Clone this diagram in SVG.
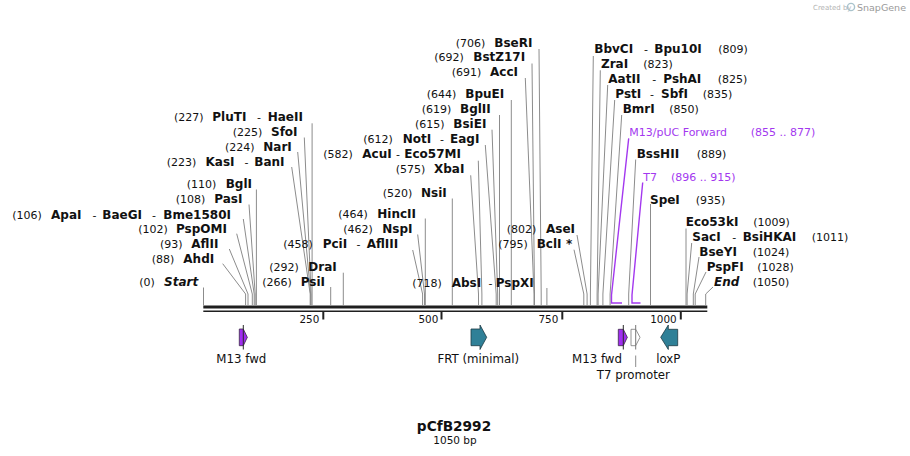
<svg xmlns="http://www.w3.org/2000/svg" width="910" height="456" viewBox="0 0 910 456">
<style>
text{font-family:"DejaVu Sans","Liberation Sans",sans-serif;fill:#111}
.n{font-size:11px}
.b{font-size:12px;font-weight:bold}
.i{font-size:12px;font-weight:bold;font-style:italic}
.pu{fill:#a338ef;font-size:11px}
.ft{font-size:11.8px;text-anchor:middle}
.tk{font-size:10.4px;text-anchor:end}
.sl{fill:none;stroke:#8c8c8c;stroke-width:1}
.pl{fill:none;stroke:#a338ef;stroke-width:1.4}
.tick{stroke:#222;stroke-width:2}
</style>
<g id="watermark">
<text x="813" y="10" style="font-size:7px;fill:#b4b4b4">Created by</text>
<circle cx="851" cy="7" r="3.6" fill="none" stroke="#a9c3cc" stroke-width="1.4"/>
<text x="857" y="11" style="font-size:9.5px;fill:#9a9a9a">SnapGene</text>
</g>
<g id="backbone">
<line x1="203.3" y1="307" x2="707.3" y2="307" stroke="#1f1f1f" stroke-width="2.8"/>
<line x1="203.3" y1="311.2" x2="707.3" y2="311.2" stroke="#1f1f1f" stroke-width="1.6"/>
<line class="tick" x1="323.3" y1="311" x2="323.3" y2="319.5"/>
<line class="tick" x1="441.5" y1="311" x2="441.5" y2="319.5"/>
<line class="tick" x1="562.3" y1="311" x2="562.3" y2="319.5"/>
<line class="tick" x1="680.8" y1="311" x2="680.8" y2="319.5"/>
<text class="tk" x="319.3" y="322.5">250</text>
<text class="tk" x="438.3" y="322.5">500</text>
<text class="tk" x="558.3" y="322.5">750</text>
<text class="tk" x="676.7" y="322.5">1000</text>
</g>
<g id="connectors">
<path class="sl" d="M312.1,123.3V305.5"/>
<path class="sl" d="M304.3,137.5L311.1,294V305.5"/>
<path class="sl" d="M297.7,152L310.6,294V305.5"/>
<path class="sl" d="M291.7,167L310.2,294V305.5"/>
<path class="sl" d="M256.4,189.5V305.5"/>
<path class="sl" d="M249,204.5L255.2,294V305.5"/>
<path class="sl" d="M243.3,219L254.2,294V305.5"/>
<path class="sl" d="M236.7,233.7L252.3,294V305.5"/>
<path class="sl" d="M229.3,249L248,294V305.5"/>
<path class="sl" d="M222.7,263.7L245.6,294V305.5"/>
<path class="sl" d="M203.5,287.5V305.5"/>
<path class="sl" d="M539,49L541.2,294V305.5"/>
<path class="sl" d="M532,63.5L534.5,294V305.5"/>
<path class="sl" d="M525.3,78L534,294V305.5"/>
<path class="sl" d="M511.3,100V305.5"/>
<path class="sl" d="M499.5,115V305.5"/>
<path class="sl" d="M492,129.7L497.7,294V305.5"/>
<path class="sl" d="M485.3,145L496.2,294V305.5"/>
<path class="sl" d="M478.3,160.7L481.9,294V305.5"/>
<path class="sl" d="M470.7,175.3L478.5,294V305.5"/>
<path class="sl" d="M452.3,198.5V305.5"/>
<path class="sl" d="M425.3,218.5V305.5"/>
<path class="sl" d="M417.7,234.5L424.5,294V305.5"/>
<path class="sl" d="M412.7,250L422.6,294V305.5"/>
<path class="sl" d="M343.3,272.7V305.5"/>
<path class="sl" d="M330.7,287V305.5"/>
<path class="sl" d="M546.9,288V305.5"/>
<path class="sl" d="M577,235L587.1,294V305.5"/>
<path class="sl" d="M574,249.7L583.8,294V305.5"/>
<path class="sl" d="M593.3,56L590.4,294V305.5"/>
<path class="sl" d="M600.3,70.3L597.1,294V305.5"/>
<path class="sl" d="M607.7,85L598.1,294V305.5"/>
<path class="sl" d="M614.7,100L602.9,294V305.5"/>
<path class="sl" d="M621.7,115L610.1,294V305.5"/>
<path class="sl" d="M635.7,159.5L628.7,294V305.5"/>
<path class="sl" d="M650.5,204V305.5"/>
<path class="sl" d="M686,228.5V305.5"/>
<path class="sl" d="M691.7,243L687.1,294V305.5"/>
<path class="sl" d="M699,257L693.3,294V305.5"/>
<path class="sl" d="M706,272L695.2,294V305.5"/>
<path class="sl" d="M713,287L705.7,294V305.5"/>
<path class="pl" d="M628.7,138.3L611.5,295V303H622"/>
<path class="pl" d="M642.7,182.5L632,295V303H640.5"/>
<line x1="635.7" y1="355.5" x2="635.7" y2="367" stroke="#8c8c8c" stroke-width="1"/>
</g>
<g id="sites-left">
<text y="120.8"><tspan class="n" x="174">(227)</tspan><tspan class="b" x="212.3">PluTI</tspan><tspan class="n" x="257">-</tspan><tspan class="b" x="267.7">HaeII</tspan></text>
<text y="136"><tspan class="n" x="232.7">(225)</tspan><tspan class="b" x="271">SfoI</tspan></text>
<text y="151"><tspan class="n" x="225">(224)</tspan><tspan class="b" x="263.3">NarI</tspan></text>
<text y="166"><tspan class="n" x="166.7">(223)</tspan><tspan class="b" x="205.5">KasI</tspan><tspan class="n" x="244.5">-</tspan><tspan class="b" x="254.3">BanI</tspan></text>
<text y="188.3"><tspan class="n" x="186.7">(110)</tspan><tspan class="b" x="225.7">BglI</tspan></text>
<text y="203"><tspan class="n" x="175.7">(108)</tspan><tspan class="b" x="214.3">PasI</tspan></text>
<text y="218.6"><tspan class="n" x="12.3">(106)</tspan><tspan class="b" x="51">ApaI</tspan><tspan class="n" x="92.5">-</tspan><tspan class="b" x="102.3">BaeGI</tspan><tspan class="n" x="152">-</tspan><tspan class="b" x="163.3">Bme1580I</tspan></text>
<text y="233.3"><tspan class="n" x="138.3">(102)</tspan><tspan class="b" x="176">PspOMI</tspan></text>
<text y="248.3"><tspan class="n" x="160">(93)</tspan><tspan class="b" x="191.3">AflII</tspan></text>
<text y="263"><tspan class="n" x="151.7">(88)</tspan><tspan class="b" x="183.3">AhdI</tspan></text>
<text y="286"><tspan class="n" x="139.3">(0)</tspan><tspan class="i" x="164">Start</tspan></text>
</g>
<g id="sites-middle">
<text y="46.6"><tspan class="n" x="455.7">(706)</tspan><tspan class="b" x="494.3">BseRI</tspan></text>
<text y="61"><tspan class="n" x="434.3">(692)</tspan><tspan class="b" x="473.3">BstZ17I</tspan></text>
<text y="76"><tspan class="n" x="451.7">(691)</tspan><tspan class="b" x="490">AccI</tspan></text>
<text y="98.3"><tspan class="n" x="426.7">(644)</tspan><tspan class="b" x="465.3">BpuEI</tspan></text>
<text y="113.3"><tspan class="n" x="421.7">(619)</tspan><tspan class="b" x="460">BglII</tspan></text>
<text y="128.3"><tspan class="n" x="415">(615)</tspan><tspan class="b" x="453.3">BsiEI</tspan></text>
<text y="142.6"><tspan class="n" x="363.3">(612)</tspan><tspan class="b" x="402.7">NotI</tspan><tspan class="n" x="440">-</tspan><tspan class="b" x="450">EagI</tspan></text>
<text y="158.3"><tspan class="n" x="323.3">(582)</tspan><tspan class="b" x="362.3">AcuI</tspan><tspan class="n" x="396">-</tspan><tspan class="b" x="404.3">Eco57MI</tspan></text>
<text y="173"><tspan class="n" x="395.7">(575)</tspan><tspan class="b" x="434">XbaI</tspan></text>
<text y="196.6"><tspan class="n" x="382.7">(520)</tspan><tspan class="b" x="421">NsiI</tspan></text>
<text y="217.6"><tspan class="n" x="338.3">(464)</tspan><tspan class="b" x="377.3">HincII</tspan></text>
<text y="233.3"><tspan class="n" x="343.3">(462)</tspan><tspan class="b" x="382.3">NspI</tspan></text>
<text y="247.8"><tspan class="n" x="283.3">(458)</tspan><tspan class="b" x="322.7">PciI</tspan><tspan class="n" x="356.5">-</tspan><tspan class="b" x="366.7">AflIII</tspan></text>
<text y="270.6"><tspan class="n" x="269.3">(292)</tspan><tspan class="b" x="308.3">DraI</tspan></text>
<text y="286"><tspan class="n" x="262.3">(266)</tspan><tspan class="b" x="300.7">PsiI</tspan></text>
<text y="286.6"><tspan class="n" x="412.3">(718)</tspan><tspan class="b" x="451.7">AbsI</tspan><tspan class="n" x="488.5">-</tspan><tspan class="b" x="495.7">PspXI</tspan></text>
<text y="233.3"><tspan class="n" x="506.7">(802)</tspan><tspan class="b" x="546">AseI</tspan></text>
<text y="248.3"><tspan class="n" x="498.3">(795)</tspan><tspan class="b" x="536.7">BclI</tspan><tspan class="b" x="566">*</tspan></text>
</g>
<g id="sites-right">
<text y="53.3"><tspan class="b" x="594.3">BbvCI</tspan><tspan class="n" x="644">-</tspan><tspan class="b" x="654.3">Bpu10I</tspan><tspan class="n" x="718.3">(809)</tspan></text>
<text y="68"><tspan class="b" x="601">ZraI</tspan><tspan class="n" x="643.3">(823)</tspan></text>
<text y="83.3"><tspan class="b" x="608.3">AatII</tspan><tspan class="n" x="652.3">-</tspan><tspan class="b" x="663.3">PshAI</tspan><tspan class="n" x="717.7">(825)</tspan></text>
<text y="97.6"><tspan class="b" x="615.3">PstI</tspan><tspan class="n" x="650">-</tspan><tspan class="b" x="661">SbfI</tspan><tspan class="n" x="702.7">(835)</tspan></text>
<text y="113.3"><tspan class="b" x="622.7">BmrI</tspan><tspan class="n" x="669.3">(850)</tspan></text>
<text y="136"><tspan class="pu" x="629.3">M13/pUC Forward</tspan><tspan class="pu" x="750.7">(855 .. 877)</tspan></text>
<text y="158.3"><tspan class="b" x="636.7">BssHII</tspan><tspan class="n" x="696.7">(889)</tspan></text>
<text y="181"><tspan class="pu" x="643.3">T7</tspan><tspan class="pu" x="671">(896 .. 915)</tspan></text>
<text y="203.6"><tspan class="b" x="650">SpeI</tspan><tspan class="n" x="695.7">(935)</tspan></text>
<text y="226.3"><tspan class="b" x="685.7">Eco53kI</tspan><tspan class="n" x="753.3">(1009)</tspan></text>
<text y="241.3"><tspan class="b" x="692.3">SacI</tspan><tspan class="n" x="732.3">-</tspan><tspan class="b" x="742.7">BsiHKAI</tspan><tspan class="n" x="811.7">(1011)</tspan></text>
<text y="256"><tspan class="b" x="699.3">BseYI</tspan><tspan class="n" x="752.7">(1024)</tspan></text>
<text y="271"><tspan class="b" x="706.7">PspFI</tspan><tspan class="n" x="757.3">(1028)</tspan></text>
<text y="286"><tspan class="i" x="714">End</tspan><tspan class="n" x="752.7">(1050)</tspan></text>
</g>
<g id="feature-m13fwd-1">
<polygon points="239.3,329 243.3,329 247.3,337.3 243.3,345.7 239.3,345.7" fill="#a02df0" stroke="#3a2a45" stroke-width="0.8"/>
<line x1="243.3" y1="325" x2="243.3" y2="349.5" stroke="#2a2a2a" stroke-width="1"/>
<text class="ft" x="241.3" y="362.5">M13 fwd</text>
</g>
<g id="feature-frt">
<polygon points="471,329 480,329 480,325 486.7,337.3 480,349.5 480,345.7 471,345.7" fill="#2f8097" stroke="#1d3a44" stroke-width="0.8"/>
<text class="ft" x="478.3" y="362.5">FRT (minimal)</text>
</g>
<g id="feature-m13fwd-2">
<polygon points="618.3,329.3 623.3,329.3 627.3,337.3 623.3,345.7 618.3,345.7" fill="#a02df0" stroke="#3a2a45" stroke-width="0.8"/>
<line x1="623.3" y1="325" x2="623.3" y2="349.5" stroke="#2a2a2a" stroke-width="1"/>
<text class="ft" x="597" y="362.5">M13 fwd</text>
</g>
<g id="feature-t7promoter">
<polygon points="631,329.3 635.7,329.3 640,337.3 635.7,345.7 631,345.7" fill="#fff" stroke="#777" stroke-width="0.8"/>
<line x1="635.7" y1="325" x2="635.7" y2="349.5" stroke="#777" stroke-width="1"/>
<text class="ft" x="633.3" y="379">T7 promoter</text>
</g>
<g id="feature-loxp">
<polygon points="660.7,337.3 668.3,325 668.3,329.3 677.7,329.3 677.7,345.7 668.3,345.7 668.3,349.5" fill="#2f8097" stroke="#1d3a44" stroke-width="0.8"/>
<text class="ft" x="668.3" y="362.5">loxP</text>
</g>
<g id="title">
<text x="454" y="430.5" text-anchor="middle" style="font-size:13.7px;font-weight:bold">pCfB2992</text>
<text x="455" y="444" text-anchor="middle" style="font-size:10.5px">1050 bp</text>
</g>
</svg>
